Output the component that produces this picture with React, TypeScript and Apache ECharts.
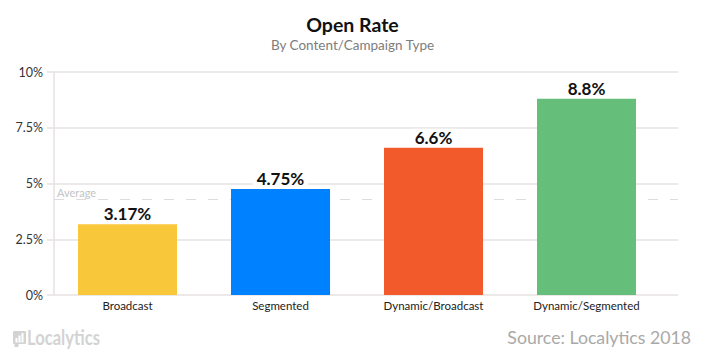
import React, { useEffect, useRef } from "react";
import * as echarts from "echarts";

const categories = ["Broadcast", "Segmented", "Dynamic/Broadcast", "Dynamic/Segmented"];
const openRates = [3.17, 4.75, 6.6, 8.8];
const barColors = ["#F9C73A", "#0081FF", "#F25A2C", "#66BE7B"];
const averageRate = 4.28;
const yTicks = { min: 0, max: 10, interval: 2.5 };

const FONT = "Lato, 'Open Sans', sans-serif";

export default function App() {
  const ref = useRef<HTMLDivElement>(null);
  useEffect(() => {
    document.body.style.margin = "0";
    if (!ref.current) return;
    const chart = echarts.init(ref.current, undefined, { renderer: "svg" });
    chart.setOption({
      animation: false,
      backgroundColor: "#ffffff",
      textStyle: { fontFamily: FONT },
      title: {
        text: "Open Rate",
        subtext: "By Content/Campaign Type",
        left: "center",
        top: 9,
        itemGap: 4,
        textStyle: { fontFamily: FONT, fontSize: 19.5, fontWeight: "bold", color: "#111111" },
        subtextStyle: { fontFamily: FONT, fontSize: 13.5, color: "#7d7d7d" },
      },
      grid: [
        { left: 54, width: 624, top: 72, height: 223 },
        { left: 51, width: 612, top: 72, height: 223 },
      ],
      xAxis: [
        { gridIndex: 0, type: "category", data: ["x"], show: false },
        {
          gridIndex: 1,
          type: "category",
          data: categories,
          axisLine: { show: false },
          axisTick: { show: false },
          axisLabel: { margin: 4, fontSize: 11.5, color: "#222222", fontFamily: FONT },
        },
      ],
      yAxis: [
        {
          gridIndex: 0,
          type: "value",
          min: yTicks.min,
          max: yTicks.max,
          interval: yTicks.interval,
          axisLine: { show: true, lineStyle: { color: "#e7e2e2", width: 1.5 } },
          axisTick: { show: true, length: 7, lineStyle: { color: "#e7e2e2", width: 1.5 } },
          splitLine: { show: true, lineStyle: { color: "#e7e2e2", width: 1.5 } },
          axisLabel: {
            margin: 11,
            fontSize: 12.5,
            color: "#333333",
            fontFamily: FONT,
            formatter: (v: number) => `${v}%`,
          },
        },
        { gridIndex: 1, type: "value", min: yTicks.min, max: yTicks.max, show: false },
      ],
      series: [
        {
          type: "line",
          xAxisIndex: 0,
          yAxisIndex: 0,
          data: [],
          silent: true,
          z: 1,
          markLine: {
            symbol: "none",
            silent: true,
            lineStyle: { type: [10, 12], color: "#dcdcdc", width: 1.2 },
            label: {
              show: true,
              position: "insideStartTop",
              formatter: "Average",
              color: "#c4c4c4",
              fontSize: 11,
              fontFamily: FONT,
              distance: [3, 2],
            },
            data: [{ yAxis: averageRate }],
          },
        },
        {
          type: "bar",
          xAxisIndex: 1,
          yAxisIndex: 1,
          barWidth: 99,
          z: 5,
          data: openRates.map((v, i) => ({ value: v, itemStyle: { color: barColors[i] } })),
          label: {
            show: true,
            position: "top",
            distance: 2,
            formatter: (p: any) => `${p.value}%`,
            fontFamily: FONT,
            fontSize: 17,
            fontWeight: "bold",
            color: "#111111",
            backgroundColor: "#ffffff",
            padding: [0, 4, 0, 4],
          },
        },
      ],
      graphic: [
        {
          type: "group",
          left: 13,
          top: 331,
          children: [
            { type: "rect", shape: { x: 0, y: 0, width: 13, height: 13, r: 1 }, style: { fill: "#d3d3d3" } },
            { type: "rect", shape: { x: 1.5, y: 13, width: 4, height: 3 }, style: { fill: "#d3d3d3" } },
            { type: "rect", shape: { x: 2.5, y: 7, width: 2, height: 4.5 }, style: { fill: "#ffffff" } },
            { type: "rect", shape: { x: 5.5, y: 4.5, width: 2, height: 7 }, style: { fill: "#ffffff" } },
            { type: "rect", shape: { x: 8.5, y: 2, width: 2, height: 9.5 }, style: { fill: "#ffffff" } },
          ],
        },
        {
          type: "text",
          x: 27,
          y: 327,
          scaleX: 0.83,
          style: {
            text: "Localytics",
            fontFamily: FONT,
            fontSize: 20,
            fontWeight: "bold",
            fill: "#d3d3d3",
          },
        },
        {
          type: "text",
          right: 14,
          top: 328,
          style: {
            text: "Source: Localytics 2018",
            fontFamily: FONT,
            fontSize: 17.7,
            fill: "#a9a9a9",
          },
        },
      ],
    });
    return () => chart.dispose();
  }, []);
  return <div ref={ref} style={{ width: 705, height: 361 }} />;
}
